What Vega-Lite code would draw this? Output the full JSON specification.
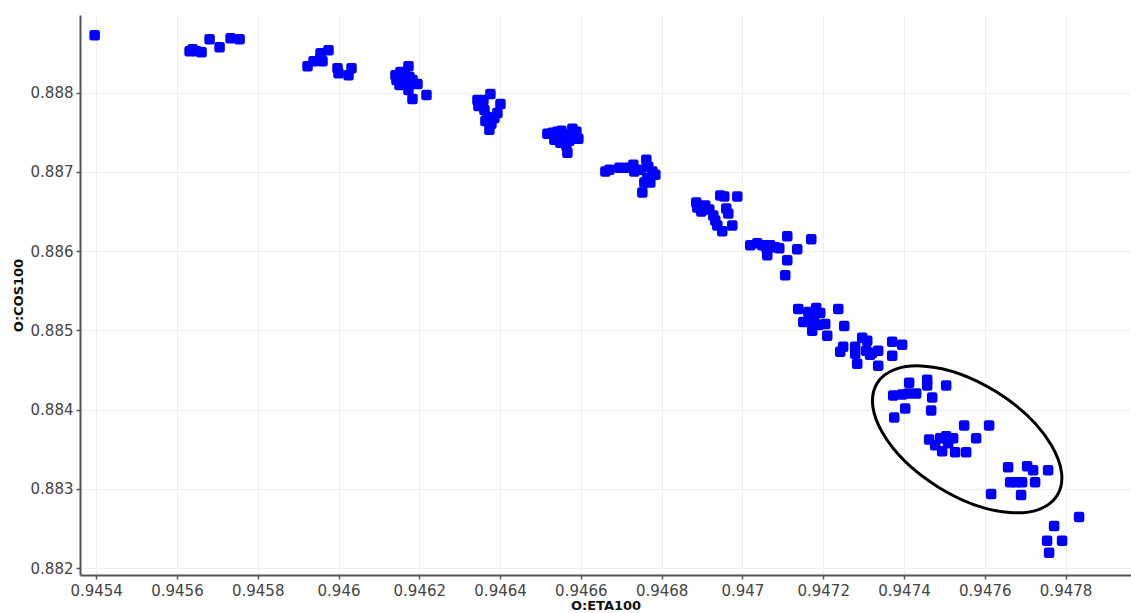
{
  "$schema": "https://vega.github.io/schema/vega-lite/v6.json",
  "width": 1051,
  "height": 560,
  "autosize": {"type": "none"},
  "padding": {"left": 80, "top": 15, "right": 0, "bottom": 38},
  "background": "white",
  "config": {
    "view": {"stroke": null},
    "axis": {
      "labelFont": "DejaVu Sans",
      "labelFontSize": 15,
      "labelColor": "#444444",
      "tickColor": "#555555",
      "tickSize": 4,
      "tickWidth": 1.5,
      "domainColor": "#555555",
      "domainWidth": 2,
      "gridColor": "#efefef",
      "gridWidth": 1,
      "titleFont": "DejaVu Sans",
      "titleFontSize": 13,
      "titleFontWeight": "bold",
      "titleColor": "#111111",
      "labelFlush": false,
      "labelOverlap": false
    }
  },
  "encoding": {
    "x": {
      "field": "eta",
      "type": "quantitative",
      "scale": {"domain": [0.94536, 0.947962], "zero": false, "nice": false},
      "axis": {
        "title": "O:ETA100",
        "values": [0.9454, 0.9456, 0.9458, 0.946, 0.9462, 0.9464, 0.9466, 0.9468, 0.947, 0.9472, 0.9474, 0.9476, 0.9478],
        "format": ".4~f",
        "labelPadding": 4,
        "titlePadding": 1
      }
    },
    "y": {
      "field": "cos",
      "type": "quantitative",
      "scale": {"domain": [0.881912, 0.888981], "zero": false, "nice": false},
      "axis": {
        "title": "O:COS100",
        "values": [0.882, 0.883, 0.884, 0.885, 0.886, 0.887, 0.888],
        "format": ".3~f",
        "labelPadding": 3,
        "titlePadding": 5
      }
    }
  },
  "layer": [
    {
      "data": {"values": [
        {"eta": 0.9453963, "cos": 0.888725},
        {"eta": 0.9456313, "cos": 0.888524},
        {"eta": 0.9456388, "cos": 0.888549},
        {"eta": 0.9456487, "cos": 0.888524},
        {"eta": 0.945661, "cos": 0.888511},
        {"eta": 0.9456808, "cos": 0.888675},
        {"eta": 0.9457056, "cos": 0.888574},
        {"eta": 0.9457328, "cos": 0.888687},
        {"eta": 0.9457551, "cos": 0.888675},
        {"eta": 0.9459233, "cos": 0.888335},
        {"eta": 0.9459382, "cos": 0.888398},
        {"eta": 0.9459555, "cos": 0.888499},
        {"eta": 0.9459604, "cos": 0.888398},
        {"eta": 0.9459753, "cos": 0.888536},
        {"eta": 0.9459555, "cos": 0.888436},
        {"eta": 0.9459975, "cos": 0.88831},
        {"eta": 0.946, "cos": 0.888247},
        {"eta": 0.9460248, "cos": 0.888222},
        {"eta": 0.9460322, "cos": 0.88831},
        {"eta": 0.946141, "cos": 0.888222},
        {"eta": 0.9461435, "cos": 0.88816},
        {"eta": 0.946151, "cos": 0.888097},
        {"eta": 0.9461534, "cos": 0.88826},
        {"eta": 0.9461608, "cos": 0.888185},
        {"eta": 0.9461633, "cos": 0.888247},
        {"eta": 0.9461683, "cos": 0.888109},
        {"eta": 0.9461732, "cos": 0.888335},
        {"eta": 0.9461732, "cos": 0.888034},
        {"eta": 0.9461757, "cos": 0.888197},
        {"eta": 0.9461831, "cos": 0.88816},
        {"eta": 0.9461831, "cos": 0.887921},
        {"eta": 0.9461955, "cos": 0.888109},
        {"eta": 0.9462178, "cos": 0.887971},
        {"eta": 0.946344, "cos": 0.887908},
        {"eta": 0.9463464, "cos": 0.887833},
        {"eta": 0.9463514, "cos": 0.887871},
        {"eta": 0.9463588, "cos": 0.887908},
        {"eta": 0.9463613, "cos": 0.887783},
        {"eta": 0.9463637, "cos": 0.887644},
        {"eta": 0.9463687, "cos": 0.887695},
        {"eta": 0.9463736, "cos": 0.887531},
        {"eta": 0.9463761, "cos": 0.887984},
        {"eta": 0.9463786, "cos": 0.887607},
        {"eta": 0.946386, "cos": 0.887682},
        {"eta": 0.9463934, "cos": 0.887745},
        {"eta": 0.9464009, "cos": 0.887858},
        {"eta": 0.9465171, "cos": 0.887481},
        {"eta": 0.9465295, "cos": 0.887494},
        {"eta": 0.9465419, "cos": 0.887506},
        {"eta": 0.9465518, "cos": 0.887519},
        {"eta": 0.9465617, "cos": 0.887469},
        {"eta": 0.946579, "cos": 0.887544},
        {"eta": 0.9465889, "cos": 0.887506},
        {"eta": 0.9465938, "cos": 0.887418},
        {"eta": 0.9465642, "cos": 0.88733},
        {"eta": 0.9465493, "cos": 0.887368},
        {"eta": 0.9465345, "cos": 0.887406},
        {"eta": 0.9465715, "cos": 0.887393},
        {"eta": 0.9465567, "cos": 0.887418},
        {"eta": 0.9465667, "cos": 0.887242},
        {"eta": 0.9465815, "cos": 0.887443},
        {"eta": 0.9466607, "cos": 0.887004},
        {"eta": 0.9466706, "cos": 0.887029},
        {"eta": 0.9466953, "cos": 0.887054},
        {"eta": 0.9467151, "cos": 0.887054},
        {"eta": 0.9467299, "cos": 0.887092},
        {"eta": 0.9467324, "cos": 0.887004},
        {"eta": 0.9467473, "cos": 0.887029},
        {"eta": 0.9467621, "cos": 0.887154},
        {"eta": 0.9467671, "cos": 0.887067},
        {"eta": 0.946777, "cos": 0.887004},
        {"eta": 0.9467844, "cos": 0.886966},
        {"eta": 0.946772, "cos": 0.886866},
        {"eta": 0.9467572, "cos": 0.886866},
        {"eta": 0.9467522, "cos": 0.88674},
        {"eta": 0.9467646, "cos": 0.886928},
        {"eta": 0.9468858, "cos": 0.886614},
        {"eta": 0.9468883, "cos": 0.886551},
        {"eta": 0.9468982, "cos": 0.886501},
        {"eta": 0.9469081, "cos": 0.886577},
        {"eta": 0.946918, "cos": 0.886526},
        {"eta": 0.9469279, "cos": 0.886451},
        {"eta": 0.9469328, "cos": 0.886388},
        {"eta": 0.9469378, "cos": 0.886325},
        {"eta": 0.9469452, "cos": 0.886702},
        {"eta": 0.9469551, "cos": 0.88669},
        {"eta": 0.94696, "cos": 0.886539},
        {"eta": 0.946965, "cos": 0.886476},
        {"eta": 0.9469749, "cos": 0.886325},
        {"eta": 0.9469501, "cos": 0.88625},
        {"eta": 0.9469873, "cos": 0.88669},
        {"eta": 0.9470194, "cos": 0.886074},
        {"eta": 0.9470368, "cos": 0.886099},
        {"eta": 0.9470491, "cos": 0.886074},
        {"eta": 0.947059, "cos": 0.886049},
        {"eta": 0.9470689, "cos": 0.886074},
        {"eta": 0.9470813, "cos": 0.886049},
        {"eta": 0.9470912, "cos": 0.886036},
        {"eta": 0.9470615, "cos": 0.885948},
        {"eta": 0.947111, "cos": 0.886187},
        {"eta": 0.9471357, "cos": 0.886024},
        {"eta": 0.9471704, "cos": 0.886149},
        {"eta": 0.947111, "cos": 0.885886},
        {"eta": 0.947106, "cos": 0.885697},
        {"eta": 0.9471382, "cos": 0.88527},
        {"eta": 0.947163, "cos": 0.885232},
        {"eta": 0.9471827, "cos": 0.885283},
        {"eta": 0.9471926, "cos": 0.88522},
        {"eta": 0.9471506, "cos": 0.885107},
        {"eta": 0.9471654, "cos": 0.885119},
        {"eta": 0.9471778, "cos": 0.88517},
        {"eta": 0.9471728, "cos": 0.884994},
        {"eta": 0.9471877, "cos": 0.885069},
        {"eta": 0.947205, "cos": 0.885082},
        {"eta": 0.9472099, "cos": 0.884931},
        {"eta": 0.9472372, "cos": 0.88527},
        {"eta": 0.947252, "cos": 0.885056},
        {"eta": 0.9472421, "cos": 0.88473},
        {"eta": 0.9472495, "cos": 0.884793},
        {"eta": 0.9472792, "cos": 0.884793},
        {"eta": 0.9472792, "cos": 0.884705},
        {"eta": 0.9472965, "cos": 0.884906},
        {"eta": 0.947309, "cos": 0.884868},
        {"eta": 0.9473065, "cos": 0.884742},
        {"eta": 0.9473214, "cos": 0.884717},
        {"eta": 0.9473361, "cos": 0.884742},
        {"eta": 0.947316, "cos": 0.884692},
        {"eta": 0.9472842, "cos": 0.884579},
        {"eta": 0.9473361, "cos": 0.884554},
        {"eta": 0.9473708, "cos": 0.884855},
        {"eta": 0.9473955, "cos": 0.884818},
        {"eta": 0.9473708, "cos": 0.88468},
        {"eta": 0.9474128, "cos": 0.88434},
        {"eta": 0.9474574, "cos": 0.884378},
        {"eta": 0.9474574, "cos": 0.884303},
        {"eta": 0.9475044, "cos": 0.884303},
        {"eta": 0.9473733, "cos": 0.884177},
        {"eta": 0.9473955, "cos": 0.88419},
        {"eta": 0.9474104, "cos": 0.884202},
        {"eta": 0.9474302, "cos": 0.884202},
        {"eta": 0.9474698, "cos": 0.884152},
        {"eta": 0.947403, "cos": 0.884014},
        {"eta": 0.9474673, "cos": 0.883989},
        {"eta": 0.9473758, "cos": 0.883901},
        {"eta": 0.9474623, "cos": 0.883624},
        {"eta": 0.9474772, "cos": 0.883549},
        {"eta": 0.9474896, "cos": 0.883637},
        {"eta": 0.9475044, "cos": 0.883662},
        {"eta": 0.9475217, "cos": 0.883637},
        {"eta": 0.9475093, "cos": 0.883574},
        {"eta": 0.9474945, "cos": 0.883474},
        {"eta": 0.9475266, "cos": 0.883461},
        {"eta": 0.9475539, "cos": 0.883461},
        {"eta": 0.9475489, "cos": 0.8838},
        {"eta": 0.9476108, "cos": 0.8838},
        {"eta": 0.9475786, "cos": 0.883637},
        {"eta": 0.9476578, "cos": 0.883273},
        {"eta": 0.9477048, "cos": 0.883285},
        {"eta": 0.9477197, "cos": 0.883235},
        {"eta": 0.9477568, "cos": 0.883235},
        {"eta": 0.9476628, "cos": 0.883084},
        {"eta": 0.9476776, "cos": 0.883084},
        {"eta": 0.9476924, "cos": 0.883084},
        {"eta": 0.9477246, "cos": 0.883084},
        {"eta": 0.9476157, "cos": 0.882933},
        {"eta": 0.9476899, "cos": 0.882921},
        {"eta": 0.9478335, "cos": 0.882644},
        {"eta": 0.9477716, "cos": 0.882531},
        {"eta": 0.9477543, "cos": 0.882343},
        {"eta": 0.9477914, "cos": 0.882343},
        {"eta": 0.9477593, "cos": 0.882192}
      ]},
      "mark": {"type": "point", "shape": "square", "filled": true, "size": 36, "fill": "#0000ff", "stroke": "#0000ff", "strokeWidth": 4.5, "strokeJoin": "round", "opacity": 1}
    },
    {
      "data": {"values": [{"eta": 0.9475564, "cos": 0.8836244}]},
      "mark": {
        "type": "point",
        "shape": "M 1 0 C 1 0.2905 0.5523 0.526 0 0.526 C -0.5523 0.526 -1 0.2905 -1 0 C -1 -0.2905 -0.5523 -0.526 0 -0.526 C 0.5523 -0.526 1 -0.2905 1 0 Z",
        "filled": false,
        "size": 45000,
        "angle": 32,
        "stroke": "#000000",
        "strokeWidth": 3,
        "opacity": 1
      }
    }
  ]
}
